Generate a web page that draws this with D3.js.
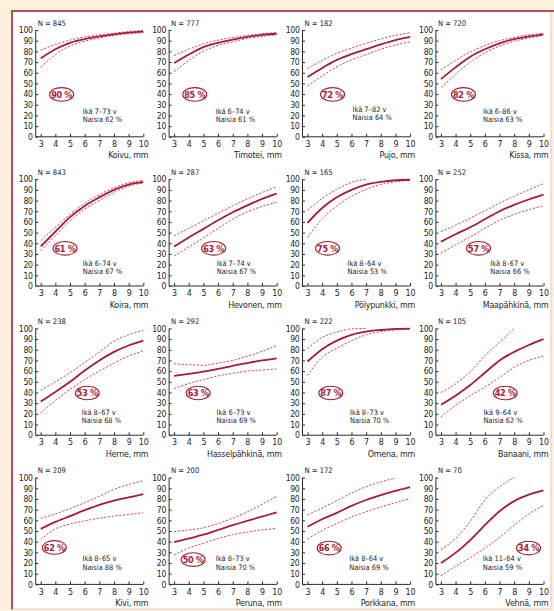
<!DOCTYPE html>
<html>
<head>
<meta charset="utf-8">
<script src="https://cdn.jsdelivr.net/npm/d3@7"></script>
<style>
  html, body { margin: 0; padding: 0; background: #fdf1dc; }
  svg { display: block; }
  text { font-family: "Liberation Sans Narrow", "DejaVu Sans Condensed", "Roboto Condensed", "Liberation Sans", sans-serif; fill: #1e1e1e; }
</style>
</head>
<body>
<svg id="chart" width="554" height="611"></svg>
<script>
// Wheal diameter (mm) at which each curve is evaluated
const mm = [3, 4, 5, 6, 7, 8, 9, 10];

const allergens = ["Koivu", "Timotei", "Pujo", "Kissa",
                   "Koira", "Hevonen", "Pölypunkki", "Maapähkinä",
                   "Herne", "Hasselpähkinä", "Omena", "Banaani",
                   "Kivi", "Peruna", "Porkkana", "Vehnä"];
const sampleN   = [845, 777, 182, 720, 843, 287, 165, 252, 238, 292, 222, 105, 209, 200, 172, 70];
const positivePct = [90, 85, 72, 82, 61, 63, 75, 57, 53, 63, 87, 42, 62, 50, 66, 34];
const ageRange  = ["7–73", "6–74", "7–82", "6–86", "6–74", "7–74", "8–64", "8–67",
                   "8–67", "6–73", "8–73", "9–64", "8–65", "8–73", "8–64", "11–64"];
const womenPct  = [62, 61, 64, 63, 67, 67, 53, 66, 68, 69, 70, 62, 88, 70, 69, 59];

// Estimated probability (%) per diameter
const estimate = [
  [73.5, 82, 88, 91.5, 94, 96, 97.5, 98.5],
  [69, 77, 84, 88, 91, 93.5, 95.5, 96.5],
  [56, 64.5, 72, 77.5, 82, 86.5, 90.5, 93.5],
  [54, 65, 75, 82, 87.5, 91.5, 94, 96],
  [37, 51, 64.5, 75, 83, 90, 95, 97.5],
  [37, 45.5, 53.5, 61.5, 69, 75.5, 81.5, 86.5],
  [59, 73, 83, 90, 95, 97.5, 99, 99.5],
  [41.5, 48.5, 55, 62.5, 70, 76, 81, 85.5],
  [31.5, 40.5, 50, 60.5, 70, 78, 84, 88.5],
  [55.5, 57.5, 59.5, 62, 65, 67.5, 70, 72],
  [69, 80.5, 88.5, 94, 97, 98.5, 99.5, 99.8],
  [28.5, 37, 47, 58.5, 70, 78, 84.5, 90],
  [52, 58.5, 64, 69.5, 74.5, 78.5, 81.5, 84.5],
  [39.5, 43, 46.5, 51, 55.5, 59.5, 63.5, 67.5],
  [54, 61, 67, 73.5, 79, 83.5, 87.5, 91],
  [20, 29.5, 41.5, 55.5, 68.5, 78, 84, 88]
];
// Upper confidence limit (%); null where the limit is off the top
const upper = [
  [81, 86.5, 90.5, 93.5, 95.5, 97, 98.5, 99.5],
  [76, 82, 87, 90.5, 93, 95, 96.5, 97.5],
  [64, 71.5, 78, 83, 87.5, 91.5, 95, 97.5],
  [62.5, 71.5, 79.5, 85.5, 90, 93, 95.5, 97],
  [42.5, 55, 67, 77.5, 85.5, 92, 96.5, 99],
  [47, 54, 61, 68, 75, 81.5, 87.5, 93],
  [71, 82, 90.5, 97, 100, null, null, null],
  [51, 57, 63.5, 70.5, 77.5, 84, 90, 96],
  [42, 50, 58.5, 68, 78, 88, 94, 98],
  [67, 66, 65.5, 67.5, 70, 74, 78.5, 84],
  [81, 91.5, 96.5, 99.5, 100, null, null, null],
  [40, 48, 59.5, 74.5, 87, 100, null, null],
  [62, 66, 71, 76.5, 82.5, 89, 93.5, 97],
  [49.5, 51, 53, 57, 62, 68, 75, 82.5],
  [65, 71.5, 78.5, 85.5, 91.5, 96, 99.5, null],
  [32.5, 43, 59, 79, 91.5, 100, null, null]
];
// Lower confidence limit (%)
const lower = [
  [65, 77, 85, 89.5, 92.5, 95, 96.5, 97.5],
  [61, 71.5, 80, 85.5, 89, 92, 94, 95.5],
  [47.5, 57, 65.5, 72, 77, 82, 86, 89],
  [46, 58.5, 70, 78.5, 85, 89.5, 92.5, 95],
  [33, 47, 61, 72, 80, 87.5, 93.5, 96.5],
  [28, 36.5, 45, 54, 62.5, 69.5, 74.5, 78.5],
  [45.5, 63, 75, 84, 90.5, 95, 97.5, 99],
  [31, 38.5, 46, 54, 61.5, 67, 71.5, 75],
  [21, 32.5, 43, 52, 60, 67.5, 74, 79],
  [43.5, 48.5, 52, 55.5, 58, 60, 61, 62],
  [56, 73, 81.5, 88.5, 94, 97, 98.5, 99.5],
  [17, 28, 37, 45, 54, 63.5, 70, 74],
  [42, 52, 56.5, 59.5, 62, 64, 65.5, 67],
  [27.5, 34, 38.5, 43, 46.5, 49, 51, 52.5],
  [42.5, 50.5, 57, 63, 68, 72.5, 76.5, 80.5],
  [8, 17, 25, 34, 44, 55.5, 66, 74]
];

const yTicks = d3.range(0, 101, 10);
const xTicks = mm;

// Label anchors in data units [mm, %]
const badgeAt = [[4.43, 39.7], [4.41, 39.7], [4.71, 39.7], [4.54, 39.7],
                 [4.66, 35.3], [5.7, 35.3], [4.37, 35.3], [5.57, 35.3],
                 [6.18, 39.5], [4.64, 39.5], [4.59, 39.5], [7.39, 39.5],
                 [3.93, 34.6], [4.3, 23.2], [4.48, 34], [8.98, 34]];
const noteAt = [[5.87, 24], [5.84, 24], [6.07, 26], [5.87, 24],
                [5.87, 21.4], [5.91, 21.4], [5.73, 21.4], [6.37, 21.4],
                [5.8, 21.8], [5.9, 21.8], [5.9, 21.8], [5.9, 21.8],
                [5.85, 24], [5.85, 24], [5.85, 24], [5.85, 24]];

const svg = d3.select("#chart");
const RED = "#a41c36", DASH = "#cc4a64", AXIS = "#2a2a2a";

// Page frame
svg.append("rect").attr("x", 12).attr("y", 11).attr("width", 539).attr("height", 598).attr("fill", "#fff");
svg.append("line").attr("x1", 551).attr("x2", 551).attr("y1", 11).attr("y2", 609).attr("stroke", "#edc3ca").attr("stroke-width", 1);
svg.append("line").attr("x1", 12).attr("x2", 551).attr("y1", 609).attr("y2", 609).attr("stroke", "#edc3ca").attr("stroke-width", 1);
svg.append("line").attr("x1", 12).attr("x2", 12).attr("y1", 11).attr("y2", 609.5).attr("stroke", "#8e1b2e").attr("stroke-width", 1.5);
svg.append("line").attr("x1", 11.25).attr("x2", 554).attr("y1", 11).attr("y2", 11).attr("stroke", "#8e1b2e").attr("stroke-width", 1.5);

const colX = i => 40.7 + i * 133.4;     // x of the 3 mm tick
const rowY = r => 30 + r * 149.2;       // y of the 100 % tick
const plotW = 102.6, plotH = 106.8;

allergens.forEach((name, k) => {
  const c = k % 4, r = Math.floor(k / 4);
  const x = d3.scaleLinear().domain([3, 10]).range([colX(c), colX(c) + plotW]);
  const y = d3.scaleLinear().domain([0, 100]).range([rowY(r) + plotH, rowY(r)]);
  const axisX = x(3) - 5;
  const g = svg.append("g");

  // y axis
  const ya = g.append("g").attr("transform", `translate(${axisX},0)`)
    .call(d3.axisLeft(y).tickValues(yTicks).tickSize(-2.5).tickPadding(3).tickFormat(d3.format("d")));
  ya.select(".domain").remove();
  ya.append("line").attr("y1", y(0)).attr("y2", y(100)).attr("stroke", AXIS).attr("stroke-width", 1);
  ya.selectAll(".tick line").attr("stroke", AXIS).attr("stroke-width", 1);
  ya.selectAll(".tick text").attr("font-size", 8.6).attr("fill", "#1e1e1e").attr("font-family", null)
    .attr("letter-spacing", -0.3);

  // x axis
  const xa = g.append("g").attr("transform", `translate(0,${y(0)})`)
    .call(d3.axisBottom(x).tickValues(xTicks).tickSize(-3).tickPadding(4).tickFormat(d3.format("d")));
  xa.select(".domain").remove();
  xa.append("line").attr("x1", axisX).attr("x2", x(10)).attr("stroke", AXIS).attr("stroke-width", 1);
  xa.selectAll(".tick line").attr("stroke", AXIS).attr("stroke-width", 1);
  xa.selectAll(".tick text").attr("font-size", 8.8).attr("fill", "#1e1e1e").attr("font-family", null);

  g.append("text").attr("x", x(10) + 5).attr("y", y(0) + 21.5).attr("text-anchor", "end")
    .attr("font-size", 8.8).attr("letter-spacing", -0.2).text(`${name}, mm`);
  g.append("text").attr("x", axisX + 2).attr("y", y(100) - 4.5)
    .attr("font-size", 7.6).text(`N = ${sampleN[k]}`);

  // curves
  const line = d3.line().defined(d => d[1] != null).x(d => x(d[0])).y(d => y(d[1])).curve(d3.curveMonotoneX);
  const pts = arr => mm.map((m, i) => [m, arr[i]]);
  [upper[k], lower[k]].forEach(arr => {
    g.append("path").attr("d", line(pts(arr))).attr("fill", "none")
      .attr("stroke", DASH).attr("stroke-width", 1).attr("stroke-dasharray", "2.2,1.6");
  });
  g.append("path").attr("d", line(pts(estimate[k]))).attr("fill", "none")
    .attr("stroke", RED).attr("stroke-width", 1.8);

  // share of positive tests
  const [bx, by] = badgeAt[k];
  g.append("ellipse").attr("cx", x(bx)).attr("cy", y(by)).attr("rx", 12).attr("ry", 6.8)
    .attr("fill", "#fff").attr("stroke", RED).attr("stroke-width", 1.1);
  g.append("text").attr("x", x(bx)).attr("y", y(by)).attr("dy", "0.36em").attr("text-anchor", "middle")
    .attr("font-size", 9).attr("font-weight", "bold").attr("letter-spacing", -0.3)
    .style("fill", RED).text(`${positivePct[k]} %`);

  // age range and share of women
  const [nx, ny] = noteAt[k];
  const note = g.append("text").attr("x", x(nx)).attr("y", y(ny)).attr("font-size", 7.4);
  note.append("tspan").attr("x", x(nx)).attr("dy", "0.35em").text(`Ikä ${ageRange[k]} v`);
  note.append("tspan").attr("x", x(nx)).attr("dy", 8.6).text(`Naisia ${womenPct[k]} %`);
});
</script>
</body>
</html>
